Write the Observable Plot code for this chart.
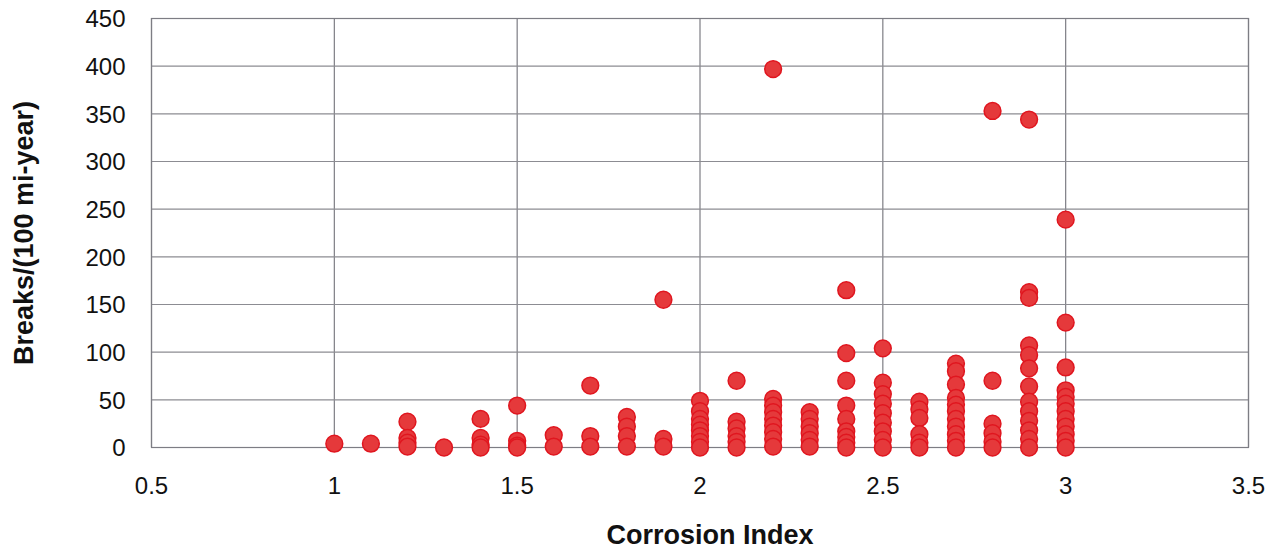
<!DOCTYPE html>
<html>
<head>
<meta charset="utf-8">
<script src="https://cdn.jsdelivr.net/npm/d3@7"></script>
<script src="https://cdn.jsdelivr.net/npm/@observablehq/plot@0.6"></script>
<style>
  html, body { margin: 0; padding: 0; background: #fff; }
</style>
</head>
<body>
<div id="chart"></div>
<script>
// Corrosion index columns
const corrosionIndex = [1.0, 1.1, 1.2, 1.3, 1.4, 1.5, 1.6, 1.7, 1.8, 1.9, 2.0, 2.1, 2.2, 2.3, 2.4, 2.5, 2.6, 2.7, 2.8, 2.9, 3.0];
// Breaks/(100 mi-year) observed at each corrosion index
const breaks = [
  [4],
  [4],
  [27, 10, 5, 1],
  [0],
  [30, 10, 3, 0],
  [44, 7, 2, 0],
  [13, 1],
  [65, 12, 1],
  [32, 22, 12, 1],
  [155, 9, 1],
  [49, 38, 30, 24, 18, 12, 6, 0],
  [70, 27, 20, 12, 6, 0],
  [397, 51, 44, 37, 30, 23, 16, 9, 1],
  [37, 30, 22, 15, 8, 1],
  [165, 99, 70, 44, 30, 17, 11, 5, 0],
  [104, 68, 56, 46, 36, 26, 17, 8, 0],
  [48, 40, 31, 14, 5, 0],
  [88, 80, 66, 52, 45, 38, 30, 22, 14, 7, 0],
  [353, 70, 25, 15, 6, 0],
  [344, 163, 157, 107, 97, 83, 64, 48, 38, 28, 18, 9, 0],
  [239, 131, 84, 60, 53, 46, 38, 30, 22, 14, 7, 0]
];
const xTicks = [0.5, 1, 1.5, 2, 2.5, 3, 3.5];
const xTickLabels = ["0.5", "1", "1.5", "2", "2.5", "3", "3.5"];
const yTicks = [0, 50, 100, 150, 200, 250, 300, 350, 400, 450];
const xTitle = "Corrosion Index";
const yTitle = "Breaks/(100 mi-year)";

const points = corrosionIndex.flatMap((x, i) => breaks[i].map(y => ({x, y})));

const font = "'Liberation Sans', Arial, Helvetica, sans-serif";

const chart = Plot.plot({
  width: 1281,
  height: 551,
  marginLeft: 151,
  marginRight: 33,
  marginTop: 18,
  marginBottom: 104,
  style: {fontFamily: font, fontSize: "24px", color: "#111", background: "#fff"},
  x: {domain: [0.5, 3.5], axis: null},
  y: {domain: [0, 450], axis: null},
  marks: [
    Plot.gridX(xTicks, {stroke: "#7d7d84", strokeOpacity: 1, strokeWidth: 1.2}),
    Plot.gridY(yTicks, {stroke: "#8c8c92", strokeOpacity: 1, strokeWidth: 1.2}),
    Plot.frame({stroke: "#7d7d84", strokeWidth: 1.2}),
    // x tick labels
    Plot.text(xTicks, {x: d => d, frameAnchor: "bottom", dy: 46, text: (d, i) => xTickLabels[i], fontSize: 24, fill: "#111"}),
    // y tick labels
    Plot.text(yTicks, {y: d => d, frameAnchor: "left", textAnchor: "end", dx: -26, dy: 1, text: d => String(d), fontSize: 24, fill: "#111"}),
    Plot.text([yTitle], {frameAnchor: "left", textAnchor: "middle", dx: -127, rotate: -90, fontWeight: "bold", fontSize: 27, fill: "#111"}),
    Plot.text([xTitle], {frameAnchor: "bottom", textAnchor: "middle", dx: 10, dy: 96, fontWeight: "bold", fontSize: 27, fill: "#111"}),
    Plot.dot(points, {x: "x", y: "y", r: 8.4, fill: "#e5393b", stroke: "#e0161f", strokeWidth: 1.5})
  ]
});
document.getElementById("chart").appendChild(chart);
</script>
</body>
</html>
